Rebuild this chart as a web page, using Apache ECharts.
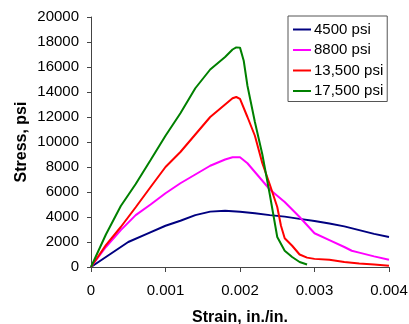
<!DOCTYPE html>
<html>
<head>
<meta charset="utf-8">
<script src="https://cdn.jsdelivr.net/npm/echarts@6/dist/echarts.min.js"></script>
<style>
  html, body { margin: 0; padding: 0; background: #fff; }
  #chart { width: 409px; height: 324px; }
</style>
</head>
<body>
<div id="chart"></div>
<script>
// strain (in./in.), stress (psi)
const psi4500 = [[0,0],[0.00025,1000],[0.0005,2000],[0.00075,2650],[0.001,3300],[0.0012,3700],[0.0014,4150],[0.0016,4430],[0.0018,4500],[0.002,4420],[0.0022,4300],[0.0024,4150],[0.0026,4030],[0.0028,3850],[0.003,3680],[0.0032,3480],[0.0034,3250],[0.0036,2950],[0.0038,2650],[0.004,2400]];
const psi8800 = [[0,0],[0.0002,1600],[0.0004,2950],[0.0006,4150],[0.0008,5000],[0.001,5900],[0.0012,6700],[0.0014,7400],[0.0016,8100],[0.0018,8600],[0.0019,8780],[0.002,8780],[0.0021,8300],[0.0022,7600],[0.0024,6200],[0.0026,5200],[0.0028,4000],[0.003,2700],[0.0032,2150],[0.0034,1600],[0.0035,1300],[0.0036,1150],[0.0038,850],[0.004,580]];
const psi13500 = [[0,0],[0.0002,1750],[0.0004,3200],[0.0006,4780],[0.0008,6400],[0.001,8000],[0.0012,9200],[0.0014,10600],[0.0016,12000],[0.0018,13000],[0.0019,13500],[0.00195,13600],[0.002,13450],[0.0021,12000],[0.0022,10500],[0.0023,8300],[0.0024,6600],[0.0025,4800],[0.00255,3300],[0.0026,2300],[0.0027,1700],[0.0028,1000],[0.0029,750],[0.003,650],[0.0032,580],[0.0034,400],[0.0036,280],[0.0038,200],[0.004,100]];
const psi17500 = [[0,0],[0.0002,2600],[0.0004,4880],[0.0006,6640],[0.0008,8560],[0.001,10500],[0.0012,12300],[0.0014,14300],[0.0016,15800],[0.0018,16800],[0.0019,17400],[0.00195,17570],[0.002,17550],[0.00205,16500],[0.0021,14500],[0.0022,11600],[0.0023,9000],[0.0024,5800],[0.0025,2400],[0.0026,1300],[0.0027,800],[0.0028,400],[0.0029,200]];

const seriesNames = ["4500 psi", "8800 psi", "13,500 psi", "17,500 psi"];
const seriesColors = ["#000080", "#ff00ff", "#ff0000", "#008000"];
const seriesData = [psi4500, psi8800, psi13500, psi17500];
const xTickLabels = ["0", "0.001", "0.002", "0.003", "0.004"];

const font = "Liberation Sans";
const chart = echarts.init(document.getElementById("chart"));
chart.setOption({
  animation: false,
  backgroundColor: "#fff",
  textStyle: { fontFamily: font },
  grid: { left: 91, right: 20, top: 17, bottom: 57, outerBoundsMode: "none", containLabel: false },
  legend: {
    orient: "vertical",
    left: 288,
    top: 16,
    padding: [6, 4, 3, 5],
    itemGap: 5.5,
    itemWidth: 18,
    itemHeight: 2,
    icon: "rect",
    borderColor: "#555",
    borderWidth: 1,
    backgroundColor: "#fff",
    textStyle: { fontFamily: font, fontSize: 15, color: "#000", padding: [0, 0, 0, -2] },
    data: seriesNames,
  },
  xAxis: {
    type: "value",
    min: 0,
    max: 0.004,
    interval: 0.001,
    name: "Strain, in./in.",
    nameLocation: "middle",
    nameGap: 43,
    nameMoveOverlap: false,
    nameTextStyle: { fontFamily: font, fontSize: 16, fontWeight: "bold", color: "#000" },
    axisLine: { lineStyle: { color: "#444", width: 1 } },
    axisTick: { show: true, length: 5, lineStyle: { color: "#444" } },
    axisLabel: {
      fontFamily: font,
      fontSize: 15,
      color: "#000",
      margin: 16,
      formatter: (v) => xTickLabels[Math.round(v / 0.001)],
    },
    splitLine: { show: false },
  },
  yAxis: {
    type: "value",
    min: 0,
    max: 20000,
    interval: 2000,
    name: "Stress, psi",
    nameLocation: "middle",
    nameRotate: 90,
    nameGap: 61,
    nameMoveOverlap: false,
    nameTextStyle: { fontFamily: font, fontSize: 16, fontWeight: "bold", color: "#000" },
    axisLine: { show: true, lineStyle: { color: "#444", width: 1 } },
    axisTick: { show: true, length: 4, lineStyle: { color: "#444" } },
    axisLabel: { fontFamily: font, fontSize: 15, color: "#000", margin: 12, formatter: (v) => String(v) },
    splitLine: { show: false },
  },
  series: seriesData.map((d, i) => ({
    name: seriesNames[i],
    type: "line",
    data: d,
    symbol: "none",
    lineStyle: { width: 2, color: seriesColors[i] },
    itemStyle: { color: seriesColors[i] },
  })),
});
</script>
</body>
</html>
